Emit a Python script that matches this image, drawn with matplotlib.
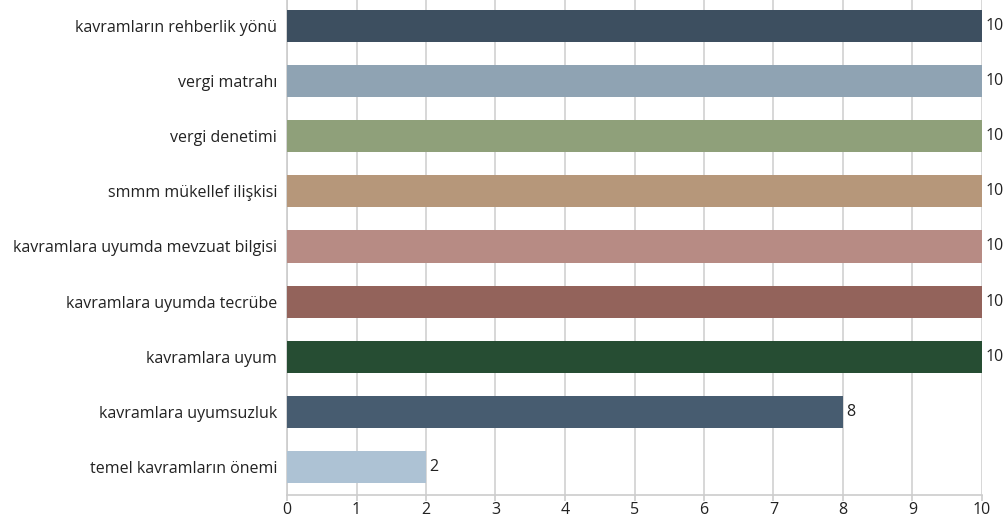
import matplotlib.pyplot as plt
import numpy as np

plt.rcParams['font.family'] = ['Open Sans', 'DejaVu Sans']

categories = ['kavramların rehberlik yönü', 'vergi matrahı', 'vergi denetimi',
              'smmm mükellef ilişkisi', 'kavramlara uyumda mevzuat bilgisi',
              'kavramlara uyumda tecrübe', 'kavramlara uyum',
              'kavramlara uyumsuzluk', 'temel kavramların önemi']
values = [10, 10, 10, 10, 10, 10, 10, 8, 2]
colors = ['#3d4f60', '#8fa3b3', '#8fa07a', '#b6977a', '#b78b84',
          '#93635b', '#264d33', '#475c70', '#adc2d4']

fig = plt.figure(figsize=(10.04, 5.2), dpi=100)
ax = fig.add_axes([287/1004, 25/520, (982-287)/1004, 497/520])

y = np.arange(len(categories))
ax.barh(y, values, height=0.58, color=colors, zorder=3)
for yi, v in zip(y, values):
    ax.text(v + 0.05, yi, str(v), va='center', ha='left', fontsize=11.5, color='#222222')

ax.set_ylim(len(categories) - 0.5, -0.5)
ax.set_xlim(0, 10)
ax.set_yticks(y)
ax.set_yticklabels(categories, fontsize=11.5, color='#222222')
ax.set_xticks(np.arange(0, 11))
ax.tick_params(axis='x', labelsize=11.5, colors='#222222', length=4, color='#cccccc',
               width=1.2, pad=1)
ax.tick_params(axis='y', length=0, pad=7)
ax.grid(axis='x', color='#d4d4d4', linewidth=1.3, zorder=0)

ax.spines['top'].set_visible(False)
ax.spines['right'].set_visible(False)
ax.spines['left'].set_color('#cccccc')
ax.spines['bottom'].set_color('#cccccc')
ax.spines['left'].set_linewidth(1.2)
ax.spines['bottom'].set_linewidth(1.2)

fig.savefig('out.png', dpi=100)
